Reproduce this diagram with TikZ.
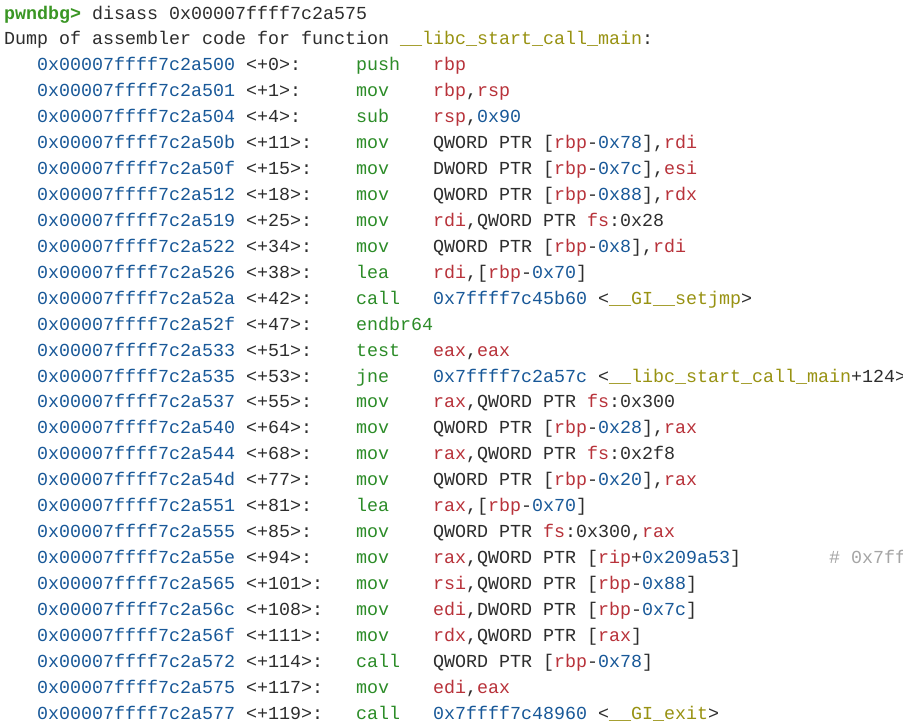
\documentclass[tikz,border=0pt]{standalone}
\usepackage{fontspec}
\setmonofont{Liberation Mono}
\usepackage{tikz}

\definecolor{promptgreen}{RGB}{58,150,36}
\definecolor{mnemgreen}{RGB}{44,140,40}
\definecolor{addrblue}{RGB}{24,88,152}
\definecolor{regred}{RGB}{184,50,58}
\definecolor{symolive}{RGB}{152,146,18}
\definecolor{textgray}{RGB}{45,45,45}
\definecolor{commentgray}{RGB}{165,165,165}

\newcommand{\rg}[1]{\textcolor{regred}{#1}}
\newcommand{\nm}[1]{\textcolor{addrblue}{#1}}
\newcommand{\sy}[1]{\textcolor{symolive}{#1}}
\newcommand{\off}[1]{\textcolor{textgray}{#1}}

\tikzset{
  term/.style={anchor=base west, inner sep=0pt, text=textgray,
    font=\ttfamily\fontsize{18.33}{22}\selectfont},
  addr/.style={term, text=addrblue},
  mnem/.style={term, text=mnemgreen},
  ops/.style={term},
  comment/.style={term, text=commentgray}
}

\begin{document}
\begin{tikzpicture}
  \useasboundingbox (0pt,0pt) rectangle (903pt,-723pt);
  \fill [white] (0pt,0pt) rectangle (903pt,-723pt);
  \clip (0pt,0pt) rectangle (903pt,-723pt);
  \begin{scope}[x=11pt, y=-25.93pt, shift={(4pt,-19pt)}]
  \node [term] (prompt) at (0,0) {\textbf{\textcolor{promptgreen}{pwndbg>}} disass 0x00007ffff7c2a575};
  \node [term] (head)   at (0,1) {Dump of assembler code for function \sy{\_\_libc\_start\_call\_main}:};

  \node [addr] (a2)  at (3,2)  {0x00007ffff7c2a500 \off{<+0>:}};
  \node [mnem] (m2)  at (32,2) {push};
  \node [ops]  (o2)  at (39,2) {\rg{rbp}};

  \node [addr] (a3)  at (3,3)  {0x00007ffff7c2a501 \off{<+1>:}};
  \node [mnem] (m3)  at (32,3) {mov};
  \node [ops]  (o3)  at (39,3) {\rg{rbp},\rg{rsp}};

  \node [addr] (a4)  at (3,4)  {0x00007ffff7c2a504 \off{<+4>:}};
  \node [mnem] (m4)  at (32,4) {sub};
  \node [ops]  (o4)  at (39,4) {\rg{rsp},\nm{0x90}};

  \node [addr] (a5)  at (3,5)  {0x00007ffff7c2a50b \off{<+11>:}};
  \node [mnem] (m5)  at (32,5) {mov};
  \node [ops]  (o5)  at (39,5) {QWORD PTR [\rg{rbp}-\nm{0x78}],\rg{rdi}};

  \node [addr] (a6)  at (3,6)  {0x00007ffff7c2a50f \off{<+15>:}};
  \node [mnem] (m6)  at (32,6) {mov};
  \node [ops]  (o6)  at (39,6) {DWORD PTR [\rg{rbp}-\nm{0x7c}],\rg{esi}};

  \node [addr] (a7)  at (3,7)  {0x00007ffff7c2a512 \off{<+18>:}};
  \node [mnem] (m7)  at (32,7) {mov};
  \node [ops]  (o7)  at (39,7) {QWORD PTR [\rg{rbp}-\nm{0x88}],\rg{rdx}};

  \node [addr] (a8)  at (3,8)  {0x00007ffff7c2a519 \off{<+25>:}};
  \node [mnem] (m8)  at (32,8) {mov};
  \node [ops]  (o8)  at (39,8) {\rg{rdi},QWORD PTR \rg{fs}:0x28};

  \node [addr] (a9)  at (3,9)  {0x00007ffff7c2a522 \off{<+34>:}};
  \node [mnem] (m9)  at (32,9) {mov};
  \node [ops]  (o9)  at (39,9) {QWORD PTR [\rg{rbp}-\nm{0x8}],\rg{rdi}};

  \node [addr] (a10) at (3,10)  {0x00007ffff7c2a526 \off{<+38>:}};
  \node [mnem] (m10) at (32,10) {lea};
  \node [ops]  (o10) at (39,10) {\rg{rdi},[\rg{rbp}-\nm{0x70}]};

  \node [addr] (a11) at (3,11)  {0x00007ffff7c2a52a \off{<+42>:}};
  \node [mnem] (m11) at (32,11) {call};
  \node [ops]  (o11) at (39,11) {\nm{0x7ffff7c45b60} <\sy{\_\_GI\_\_setjmp}>};

  \node [addr] (a12) at (3,12)  {0x00007ffff7c2a52f \off{<+47>:}};
  \node [mnem] (m12) at (32,12) {endbr64};

  \node [addr] (a13) at (3,13)  {0x00007ffff7c2a533 \off{<+51>:}};
  \node [mnem] (m13) at (32,13) {test};
  \node [ops]  (o13) at (39,13) {\rg{eax},\rg{eax}};

  \node [addr] (a14) at (3,14)  {0x00007ffff7c2a535 \off{<+53>:}};
  \node [mnem] (m14) at (32,14) {jne};
  \node [ops]  (o14) at (39,14) {\nm{0x7ffff7c2a57c} <\sy{\_\_libc\_start\_call\_main}+124>};

  \node [addr] (a15) at (3,15)  {0x00007ffff7c2a537 \off{<+55>:}};
  \node [mnem] (m15) at (32,15) {mov};
  \node [ops]  (o15) at (39,15) {\rg{rax},QWORD PTR \rg{fs}:0x300};

  \node [addr] (a16) at (3,16)  {0x00007ffff7c2a540 \off{<+64>:}};
  \node [mnem] (m16) at (32,16) {mov};
  \node [ops]  (o16) at (39,16) {QWORD PTR [\rg{rbp}-\nm{0x28}],\rg{rax}};

  \node [addr] (a17) at (3,17)  {0x00007ffff7c2a544 \off{<+68>:}};
  \node [mnem] (m17) at (32,17) {mov};
  \node [ops]  (o17) at (39,17) {\rg{rax},QWORD PTR \rg{fs}:0x2f8};

  \node [addr] (a18) at (3,18)  {0x00007ffff7c2a54d \off{<+77>:}};
  \node [mnem] (m18) at (32,18) {mov};
  \node [ops]  (o18) at (39,18) {QWORD PTR [\rg{rbp}-\nm{0x20}],\rg{rax}};

  \node [addr] (a19) at (3,19)  {0x00007ffff7c2a551 \off{<+81>:}};
  \node [mnem] (m19) at (32,19) {lea};
  \node [ops]  (o19) at (39,19) {\rg{rax},[\rg{rbp}-\nm{0x70}]};

  \node [addr] (a20) at (3,20)  {0x00007ffff7c2a555 \off{<+85>:}};
  \node [mnem] (m20) at (32,20) {mov};
  \node [ops]  (o20) at (39,20) {QWORD PTR \rg{fs}:0x300,\rg{rax}};

  \node [addr] (a21) at (3,21)  {0x00007ffff7c2a55e \off{<+94>:}};
  \node [mnem] (m21) at (32,21) {mov};
  \node [ops]  (o21) at (39,21) {\rg{rax},QWORD PTR [\rg{rip}+\nm{0x209a53}]};
  \node [comment] (c21) at (75,21) {\# 0x7ff};

  \node [addr] (a22) at (3,22)  {0x00007ffff7c2a565 \off{<+101>:}};
  \node [mnem] (m22) at (32,22) {mov};
  \node [ops]  (o22) at (39,22) {\rg{rsi},QWORD PTR [\rg{rbp}-\nm{0x88}]};

  \node [addr] (a23) at (3,23)  {0x00007ffff7c2a56c \off{<+108>:}};
  \node [mnem] (m23) at (32,23) {mov};
  \node [ops]  (o23) at (39,23) {\rg{edi},DWORD PTR [\rg{rbp}-\nm{0x7c}]};

  \node [addr] (a24) at (3,24)  {0x00007ffff7c2a56f \off{<+111>:}};
  \node [mnem] (m24) at (32,24) {mov};
  \node [ops]  (o24) at (39,24) {\rg{rdx},QWORD PTR [\rg{rax}]};

  \node [addr] (a25) at (3,25)  {0x00007ffff7c2a572 \off{<+114>:}};
  \node [mnem] (m25) at (32,25) {call};
  \node [ops]  (o25) at (39,25) {QWORD PTR [\rg{rbp}-\nm{0x78}]};

  \node [addr] (a26) at (3,26)  {0x00007ffff7c2a575 \off{<+117>:}};
  \node [mnem] (m26) at (32,26) {mov};
  \node [ops]  (o26) at (39,26) {\rg{edi},\rg{eax}};

  \node [addr] (a27) at (3,27)  {0x00007ffff7c2a577 \off{<+119>:}};
  \node [mnem] (m27) at (32,27) {call};
  \node [ops]  (o27) at (39,27) {\nm{0x7ffff7c48960} <\sy{\_\_GI\_exit}>};
  \end{scope}
\end{tikzpicture}
\end{document}
